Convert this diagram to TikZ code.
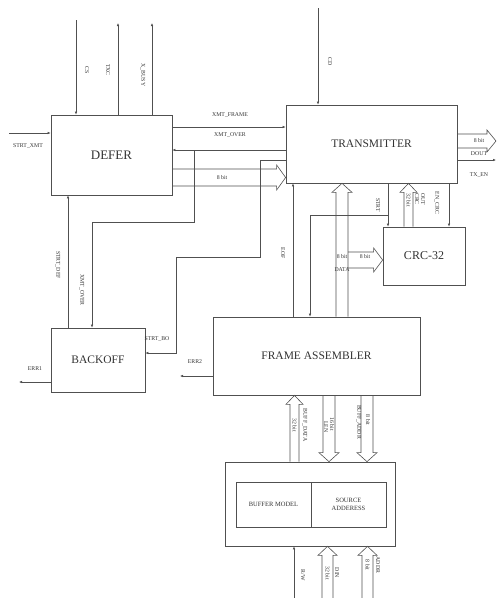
\documentclass[tikz,border=0pt]{standalone}
\usepackage{fontspec}
\setmainfont{Liberation Serif}
\usetikzlibrary{arrows.meta,calc}
\definecolor{wiregray}{HTML}{505050}
\definecolor{ink}{HTML}{333333}
\tikzset{
  block/.style={draw=wiregray, line width=0.7pt, inner sep=0pt, text=ink},
  wire/.style={draw=wiregray, line width=0.6pt},
  sig/.style={wire, -{Latex[length=3pt,width=2.6pt]}},
  lbl/.style={font=\fontsize{5.8}{5.8}\selectfont, inner sep=0.5pt, text=ink},
  vlbl/.style={lbl, rotate=-90}
}
% hollow bus arrow, vertical: left x, right x, from, to (tip)
\newcommand{\vbus}[4]{%
  \draw[wire] let \p1=(#3), \p2=(#4), \n1={sign(\y1-\y2)} in
    (#1pt,\y1) -- (#1pt,{\y2+(\n1)*9pt}) -- ({#1pt-4pt},{\y2+(\n1)*9pt})
    -- ({(#1+#2)/2*1pt},\y2) -- ({#2pt+4pt},{\y2+(\n1)*9pt})
    -- (#2pt,{\y2+(\n1)*9pt}) -- (#2pt,\y1);}
% hollow bus arrow, horizontal: top y, bottom y, from, to (tip)
\newcommand{\hbus}[4]{%
  \draw[wire] let \p1=(#3), \p2=(#4), \n1={sign(\x1-\x2)} in
    (\x1,-#1pt) -- ({\x2+(\n1)*9pt},-#1pt) -- ({\x2+(\n1)*9pt},{-#1pt+4pt})
    -- (\x2,{-(#1+#2)/2*1pt}) -- ({\x2+(\n1)*9pt},{-#2pt-4pt})
    -- ({\x2+(\n1)*9pt},-#2pt) -- (\x1,-#2pt);}

\begin{document}
\begin{tikzpicture}[x=1pt,y=-1pt]
\useasboundingbox (0,0) rectangle (497,598);

% blocks
\node[block, minimum width=121pt, minimum height=80pt, font=\fontsize{13}{13}\selectfont] (defer) at (111.5,155) {DEFER};
\node[block, minimum width=171pt, minimum height=78pt, font=\fontsize{11.5}{11.5}\selectfont] (trans) at (371.5,144) {TRANSMITTER};
\node[block, minimum width=82pt, minimum height=58pt, font=\fontsize{12}{12}\selectfont] (crc) at (424,256) {CRC-32};
\node[block, minimum width=207pt, minimum height=78pt, font=\fontsize{11.5}{11.5}\selectfont] (fa) at (316.5,356) {FRAME ASSEMBLER};
\node[block, minimum width=94pt, minimum height=64pt, font=\fontsize{11.5}{11.5}\selectfont] (backoff) at (98,360) {BACKOFF};
\node[block, minimum width=170pt, minimum height=84pt] (buf) at (310,504) {};
\node[block, minimum width=75pt, minimum height=45pt, font=\fontsize{6.5}{7}\selectfont] (bufmodel) at (273.5,504.5) {BUFFER MODEL};
\node[block, minimum width=75pt, minimum height=45pt, align=center, font=\fontsize{6.5}{8}\selectfont] (srcaddr) at (348.5,504.5) {SOURCE\\ADDERESS};

% free ends
\coordinate (csend) at (76,20);
\coordinate (txcend) at (118,23);
\coordinate (busyend) at (152,23);
\coordinate (xmtin) at (9,133);
\coordinate (cdin) at (318,8);
\coordinate (err1end) at (19,382);
\coordinate (err2end) at (180,376);
\coordinate (overj) at (194,150);
\coordinate (strtj) at (388,215);
\coordinate (dataj) at (348,260);
\coordinate (doutend) at (496,0);
\coordinate (rwin) at (294,598);
\coordinate (botin) at (0,598);

% DEFER
\draw[sig] (csend) -- (csend |- defer.north);
\draw[sig] (txcend |- defer.north) -- (txcend);
\draw[sig] (busyend |- defer.north) -- (busyend);
\draw[sig] (xmtin) -- (xmtin -| defer.west);
\draw[sig] (defer.east |- 0,127) -- (trans.west |- 0,127);
\draw[sig] (trans.west |- 0,150) -- (defer.east |- 0,150);
\draw[sig] (overj) -- (194,222) -| (backoff.north -| 92,0);
\hbus{169}{186}{defer.east}{trans.west}

% TRANSMITTER
\draw[sig] (cdin) -- (cdin |- trans.north);
\hbus{134}{148}{trans.east}{doutend}
\draw[sig] (trans.east |- 0,160) -- (doutend |- 0,160);
\draw[sig] (trans.west |- 0,160) -| (260,257) -| (176,353) -- (backoff.east |- 0,353);
\draw[sig] (fa.north -| 293,0) -- (trans.south -| 293,0);
\vbus{336}{348}{fa.north}{trans.south}
\hbus{252}{268}{dataj}{crc.west}
\draw[sig] (trans.south -| strtj) -- (crc.north -| strtj);
\draw[sig] (strtj) -| (fa.north -| 310,0);
\vbus{404}{413}{crc.north}{trans.south}
\draw[sig] (trans.south -| 449,0) -- (crc.north -| 449,0);

% BACKOFF
\draw[sig] (backoff.north -| 68,0) -- (defer.south -| 68,0);
\draw[sig] (backoff.west |- err1end) -- (err1end);
\draw[sig] (fa.west |- err2end) -- (err2end);

% buffer
\vbus{290}{299}{buf.north}{fa.south}
\vbus{323}{335}{fa.south}{buf.north}
\vbus{361}{373}{fa.south}{buf.north}
\draw[sig] (rwin) -- (rwin |- buf.south);
\vbus{322}{333}{botin}{buf.south}
\vbus{362}{373}{botin}{buf.south}

% labels
\node[vlbl] (lcs) at (87,70) {CS};
\node[vlbl] (ltxc) at (108,70) {TXC};
\node[vlbl] (lbusy) at (143,75) {X\_BUSY};
\node[lbl] (lxmt) at (28,146) {STRT\_XMT};
\node[lbl] (lframe) at (230,115) {XMT\_FRAME};
\node[lbl] (lover) at (230,135) {XMT\_OVER};
\node[lbl] (ldbit) at (222,178) {8 bit};
\node[vlbl] (lcd) at (330,62) {CD};
\node[lbl] (ldoutbit) at (479,141) {8 bit};
\node[lbl] (ldout) at (479,154) {DOUT};
\node[lbl] (ltxen) at (479,175) {TX\_EN};
\node[vlbl] (lstrt) at (378,205) {STRT};
\node[vlbl] (lcrcbit) at (408.5,200) {32 bit};
\node[vlbl] (lcrc) at (417,199) {CRC};
\node[vlbl] (lout) at (423,199) {OUT};
\node[vlbl] (lencrc) at (437,203) {EN\_CRC};
\node[vlbl] (leof) at (283,253) {EOF};
\node[lbl] (ldatabit) at (342,257) {8 bit};
\node[lbl] (ldata) at (342,270) {DATA};
\node[lbl] (lcrcdbit) at (365,257) {8 bit};
\node[vlbl] (lsdef) at (58,265) {STRT\_DEF};
\node[vlbl] (lbover) at (82,290) {XMT\_OVER};
\node[lbl] (lsbo) at (157,339) {STRT\_BO};
\node[lbl] (lerr1) at (35,369) {ERR1};
\node[lbl] (lerr2) at (195,362) {ERR2};
\node[vlbl] (lbdbit) at (294.5,425) {32 bit};
\node[vlbl] (lbdata) at (305,425) {BUFF\_DATA};
\node[vlbl] (llen) at (326,427) {LEN};
\node[vlbl] (llenbit) at (332,424) {16 bit};
\node[vlbl] (lbaddr) at (359,422) {BUFF\_ADDR};
\node[vlbl] (lbaddrbit) at (368,420) {8 bit};
\node[vlbl] (lrw) at (303,575) {R/W};
\node[vlbl] (ldinbit) at (327.5,573) {32 bit};
\node[vlbl] (ldin) at (337,573) {DIN};
\node[vlbl] (laddrbit) at (367.5,565) {8 bit};
\node[vlbl] (laddr) at (378,565) {ADDR};
\end{tikzpicture}
\end{document}
